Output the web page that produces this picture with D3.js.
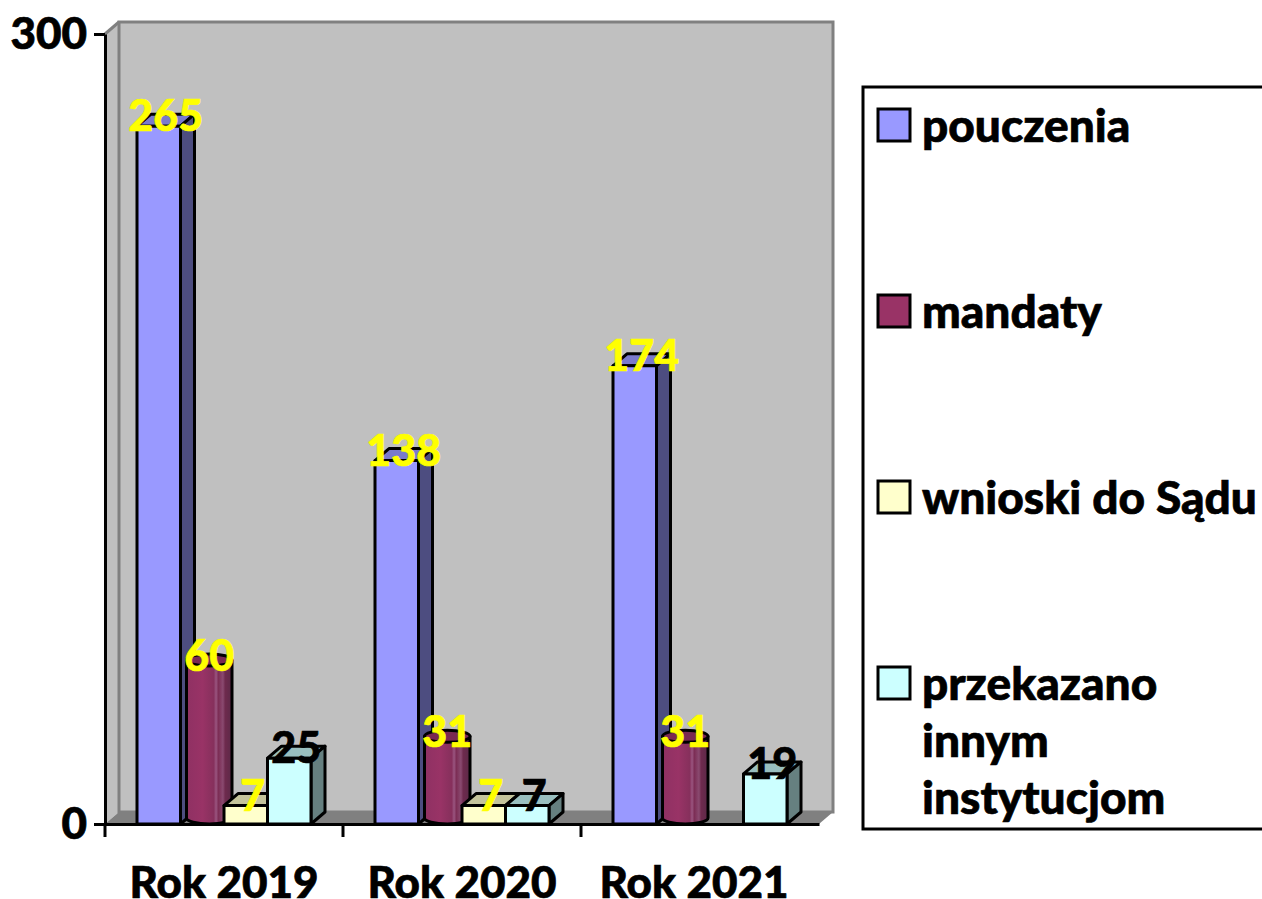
<!DOCTYPE html>
<html>
<head>
<meta charset="utf-8">
<script src="https://cdn.jsdelivr.net/npm/d3@7"></script>
<style>
    body { margin: 0; background: #fff; overflow: hidden; }
    text { font-family: Lato, Carlito, sans-serif; font-weight: 900; stroke-width: 0.7px; }
</style>
</head>
<body>
<svg id="chart" width="1262" height="899"></svg>
<script>
// values
const years = ['Rok 2019', 'Rok 2020', 'Rok 2021'];
const seriesNames = ['pouczenia', 'mandaty', 'wnioski do Sądu', 'przekazano innym instytucjom'];
const pouczenia = [265, 138, 174];
const mandaty = [60, 31, 31];
const wnioski = [7, 7, 0];
const przekazano = [25, 7, 19];
const seriesValues = [pouczenia, mandaty, wnioski, przekazano];
const yTicks = [0, 300];

const colors = [
    { front: '#9999ff', side: '#4d4d80', top: '#7a7acc', label: '#ffff00' },
    { front: '#993366', side: '#993366', top: '#7a2952', label: '#ffff00' },
    { front: '#ffffcc', side: '#808066', top: '#c4c49c', label: '#ffff00' },
    { front: '#ccffff', side: '#668080', top: '#99bfbf', label: '#000000' }
];
const legendLines = [['pouczenia'], ['mandaty'], ['wnioski do Sądu'], ['przekazano', 'innym', 'instytucjom']];

const svg = d3.select('#chart');

// 3D offset of the plot box
const depthX = 14;
const depthY = 12;

const x0 = d3.scaleBand().domain(years).range([105, 819]);
const x1 = d3.scaleBand().domain(d3.range(4)).range([32, x0.bandwidth() - 32]);
const y = d3.scaleLinear().domain([0, 300]).range([824, 34]);

const poly = pts => pts.map(p => p.join(',')).join(' ');

// gradient of the cylinder
const grad = svg.append('defs').append('linearGradient').attr('id', 'cyl');
[[0, '#8f3163'], [0.35, '#993366'], [0.6, '#86305c'], [0.65, '#9a5580'], [0.7, '#7c2d55'],
 [0.8, '#8a4a70'], [0.85, '#6e2a4d'], [1, '#5c2a48']].forEach(s => {
    grad.append('stop').attr('offset', s[0]).attr('stop-color', s[1]);
});

function renderWalls() {
    const g = svg.append('g');
    const top = y(300);
    const bottom = y(0);
    // left wall
    g.append('polygon')
        .attr('points', poly([[105, top], [105 + depthX, top - depthY], [105 + depthX, bottom - depthY], [105, bottom]]))
        .attr('fill', '#c0c0c0');
    // back wall
    g.append('rect')
        .attr('x', 105 + depthX).attr('y', top - depthY)
        .attr('width', 714).attr('height', bottom - top)
        .attr('fill', '#c0c0c0')
        .attr('stroke', '#808080').attr('stroke-width', 3);
    g.append('line')
        .attr('x1', 105).attr('y1', top)
        .attr('x2', 105 + depthX).attr('y2', top - depthY)
        .attr('stroke', '#808080').attr('stroke-width', 3);
    // floor
    g.append('polygon')
        .attr('points', poly([[105, bottom], [105 + depthX, bottom - depthY], [819 + depthX, bottom - depthY], [819, bottom]]))
        .attr('fill', '#808080');
}

function renderBox(g, x, w, yTop, c) {
    const base = y(0);
    g.append('polygon')
        .attr('points', poly([[x, yTop], [x + depthX, yTop - depthY], [x + w + depthX, yTop - depthY], [x + w, yTop]]))
        .attr('fill', c.top);
    g.append('polygon')
        .attr('points', poly([[x + w, yTop], [x + w + depthX, yTop - depthY], [x + w + depthX, base - depthY], [x + w, base]]))
        .attr('fill', c.side);
    g.append('rect')
        .attr('x', x).attr('y', yTop).attr('width', w).attr('height', base - yTop)
        .attr('fill', c.front);
}

function renderCylinder(g, x, w, yTop) {
    const base = y(0);
    const cx = x + (w + depthX) / 2;
    const rx = (w + 2) / 2;
    const ry = depthY / 2;
    g.append('path')
        .attr('d', `M${cx - rx},${yTop - ry} L${cx - rx},${base - ry} A${rx},${ry} 0 0 0 ${cx + rx},${base - ry} L${cx + rx},${yTop - ry} Z`)
        .attr('fill', 'url(#cyl)');
    g.append('ellipse')
        .attr('cx', cx).attr('cy', yTop - ry).attr('rx', rx).attr('ry', ry)
        .attr('fill', '#7a2952');
}

function renderBars() {
    const labels = [];
    const g = svg.append('g')
        .attr('stroke', '#000').attr('stroke-width', 3).attr('stroke-linejoin', 'round');
    years.forEach((year, i) => {
        seriesValues.forEach((values, s) => {
            const v = values[i];
            if (v === 0) return;
            const x = x0(year) + x1(s);
            const w = x1.bandwidth();
            if (s === 1) {
                renderCylinder(g, x, w, y(v));
            } else {
                renderBox(g, x, w, y(v), colors[s]);
            }
            labels.push({ v: v, x: x + (w + depthX) / 2, y: y(v) + 5, color: colors[s].label });
        });
    });
    // labels go over all the bars
    svg.append('g').selectAll('text')
        .data(labels)
        .join('text')
        .attr('x', d => d.x)
        .attr('y', d => d.y)
        .attr('text-anchor', 'middle')
        .attr('font-size', 43)
        .attr('fill', d => d.color)
        .attr('stroke', d => d.color)
        .text(d => d.v);
}

function renderAxes() {
    const yAxis = d3.axisLeft(y).tickValues(yTicks).tickSize(11).tickPadding(7).tickSizeOuter(0);
    const gy = svg.append('g').attr('transform', 'translate(105,0)').call(yAxis);
    gy.selectAll('text').attr('font-size', 44).attr('fill', '#000').attr('stroke', '#000').attr('dy', '0.34em');
    gy.selectAll('line').attr('stroke', '#000').attr('stroke-width', 3);
    gy.select('.domain').attr('stroke', '#000').attr('stroke-width', 3);

    const xAxis = d3.axisBottom(x0).tickSize(0).tickPadding(43);
    const gx = svg.append('g').attr('transform', 'translate(0,824)').call(xAxis);
    gx.selectAll('text').attr('font-size', 44).attr('fill', '#000').attr('stroke', '#000')
        .attr('dx', (d, i) => (i === 2 ? -6 : 0));
    gx.select('.domain').attr('stroke', '#000').attr('stroke-width', 3);

    // ticks sit between the categories
    const bounds = years.map(d => x0(d));
    svg.append('g').selectAll('line')
        .data(bounds)
        .join('line')
        .attr('x1', d => d).attr('x2', d => d)
        .attr('y1', 824).attr('y2', 837)
        .attr('stroke', '#000').attr('stroke-width', 3);
}

function renderLegend() {
    const g = svg.append('g');
    g.append('rect')
        .attr('x', 863).attr('y', 87).attr('width', 420).attr('height', 742)
        .attr('fill', '#fff').attr('stroke', '#000').attr('stroke-width', 3);
    const legendY = d3.scalePoint().domain(seriesNames).range([125, 683]);
    seriesNames.forEach((name, i) => {
        g.append('rect')
            .attr('x', 878).attr('y', legendY(name) - 16)
            .attr('width', 32).attr('height', 32)
            .attr('fill', colors[i].front)
            .attr('stroke', '#000').attr('stroke-width', 3);
        const t = g.append('text').attr('font-size', 46).attr('fill', '#000').attr('stroke', '#000');
        legendLines[i].forEach((line, k) => {
            t.append('tspan')
                .attr('x', 922)
                .attr('y', legendY(name) + 17 + k * 57)
                .text(line);
        });
    });
}

renderWalls();
renderBars();
renderAxes();
renderLegend();
</script>
</body>
</html>
